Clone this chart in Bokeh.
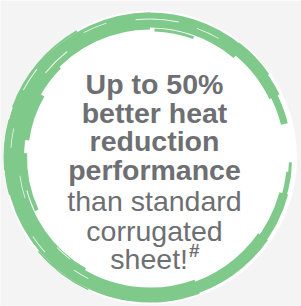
from bokeh.plotting import figure
from bokeh.embed import file_html
from bokeh.resources import INLINE
from bokeh.core.properties import value
import math

# ---- content ----
bold_lines = ["Up to 50%", "better heat", "reduction", "performance"]
regular_lines = ["than standard", "corrugated"]
last_line = "sheet!"
footnote_mark = "#"

BG = "#f4f4f4"
GREEN = "#7fc98b"
GREY = "#6e6f72"

W, H = 301, 306
p = figure(width=W, height=H, x_range=(0, W), y_range=(0, H),
           output_backend="svg", toolbar_location=None, min_border=0)
p.axis.visible = False
p.grid.visible = False
p.outline_line_color = None
p.background_fill_color = BG
p.border_fill_color = BG

cx, cy = 149.5, 149.0

# white disk
p.circle(x=[cx], y=[cy], radius=147, fill_color="white", line_color=None)

# brush ring strokes: (inner, outer, start, end) in degrees
strokes = [
    (135, 142, 14, 30),
    (133, 144, 26, 55),
    (130, 145, 50, 95),
    (128, 145, 90, 140),
    (126, 146, 135, 195),
    (128, 145, 190, 240),
    (130, 145, 235, 290),
    (132, 144, 285, 325),
    (134, 143, 320, 345),
    (137, 142, 340, 354),
    (139, 142, 350, 358),
    (145, 147, 120, 160),
    (144, 146.5, 165, 185),
    (122, 127, 150, 172),
    (123, 127, 178, 205),
    (126, 129, 70, 88),
    (145, 146.5, 220, 245),
    (142, 145.5, 35, 52),
]
r = math.radians
p.annular_wedge(x=cx, y=cy,
                inner_radius=[s[0] for s in strokes],
                outer_radius=[s[1] for s in strokes],
                start_angle=[r(s[2]) for s in strokes],
                end_angle=[r(s[3]) for s in strokes],
                fill_color=GREEN, line_color=None)

# white brush texture streaks
streaks = [
    (138, 139, 78, 96),
    (141, 141.8, 108, 118),
    (134, 135, 128, 141),
    (139, 139.8, 168, 176),
    (131, 131.8, 188, 198),
    (141, 141.8, 214, 222),
    (135.5, 136.3, 236, 243),
    (137, 137.8, 60, 70),
    (143, 144, 142, 152),
    (129, 129.8, 224, 232),
]
p.annular_wedge(x=cx, y=cy,
                inner_radius=[s[0] for s in streaks],
                outer_radius=[s[1] for s in streaks],
                start_angle=[r(s[2]) for s in streaks],
                end_angle=[r(s[3]) for s in streaks],
                fill_color="white", line_color=None, fill_alpha=0.85)

# text
tx = 154
bold_y = [223, 194, 166, 137]
reg_y = [106, 76]
p.text(x=[tx] * len(bold_lines), y=bold_y, text=bold_lines,
       text_align="center", text_baseline="alphabetic",
       text_font=value("Liberation Sans"), text_font_style="bold",
       text_font_size="28.5px", text_color=GREY)
p.text(x=[tx] * len(regular_lines), y=reg_y, text=regular_lines,
       text_align="center", text_baseline="alphabetic",
       text_font=value("Liberation Sans"), text_font_style="normal",
       text_font_size="28.5px", text_color=GREY)
p.text(x=[187.5], y=[48], text=[last_line],
       text_align="right", text_baseline="alphabetic",
       text_font=value("Liberation Sans"), text_font_style="normal",
       text_font_size="28.5px", text_color=GREY)
p.text(x=[188.5], y=[56], text=[footnote_mark],
       text_align="left", text_baseline="alphabetic",
       text_font=value("Liberation Sans"), text_font_style="bold",
       text_font_size="19px", text_color=GREY)

html = file_html(p, INLINE)
html = html.replace("<body>", '<body style="margin:0;background:%s">' % BG, 1)
open("out.html", "w").write(html)
